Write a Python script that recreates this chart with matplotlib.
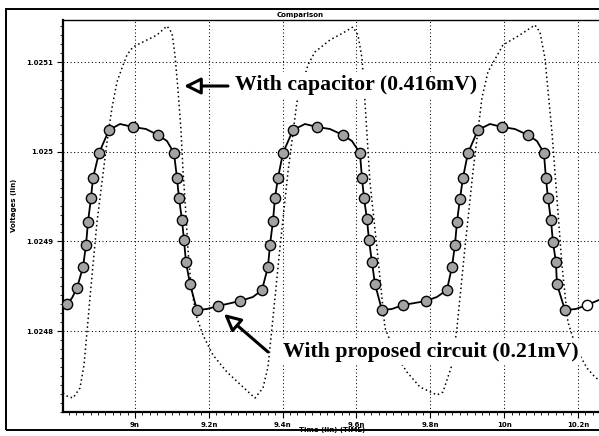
import numpy as np
import matplotlib
matplotlib.use("Agg")
import matplotlib.pyplot as plt
from matplotlib.ticker import AutoMinorLocator, FixedLocator, FixedFormatter
from matplotlib.patches import Rectangle

# ---------------- data ----------------
# "With capacitor" waveform (dotted)
cap_t = [8.8050, 8.8158, 8.8321, 8.8510, 8.8619, 8.8700, 8.8781, 8.8862, 8.8971, 8.9106,
         8.9242, 8.9377, 8.9512, 8.9648, 8.9783, 8.9946, 9.0217, 9.0596, 9.0867, 9.1002,
         9.1083, 9.1165, 9.1246, 9.1300, 9.1381, 9.1436, 9.1517, 9.1652, 9.1842, 9.2113,
         9.2492, 9.2925, 9.3250, 9.3467, 9.3602, 9.3711, 9.3927, 9.4144, 9.4388, 9.4686,
         9.4875, 9.5282, 9.5634, 9.5905, 9.6040, 9.6149, 9.6230, 9.6365, 9.6555, 9.6772,
         9.7069, 9.7367, 9.7720, 9.8180, 9.8343, 9.8586, 9.8722, 9.8938, 9.9155, 9.9399,
         9.9561, 9.9968, 10.0428, 10.0834, 10.0970, 10.1105, 10.1295, 10.1430, 10.1566, 10.1728,
         10.1972, 10.2243, 10.2460, 10.2568]
cap_v = [1.0247308, 1.0247274, 1.0247252, 1.0247364, 1.0247620, 1.0247989, 1.0248369, 1.0248737, 1.0249217, 1.0249664,
         1.0250110, 1.0250490, 1.0250780, 1.0250936, 1.0251082, 1.0251171, 1.0251227, 1.0251305, 1.0251405, 1.0251327,
         1.0251082, 1.0250691, 1.0250244, 1.0249798, 1.0249295, 1.0248904, 1.0248514, 1.0248179, 1.0247955, 1.0247732,
         1.0247542, 1.0247375, 1.0247252, 1.0247364, 1.0247598, 1.0248034, 1.0248927, 1.0249775, 1.0250557, 1.0250970,
         1.0251115, 1.0251249, 1.0251327, 1.0251394, 1.0251305, 1.0251048, 1.0250557, 1.0249664, 1.0248927, 1.0248034,
         1.0247732, 1.0247542, 1.0247375, 1.0247286, 1.0247319, 1.0247620, 1.0248034, 1.0248927, 1.0249775, 1.0250601,
         1.0250892, 1.0251193, 1.0251305, 1.0251416, 1.0251338, 1.0251048, 1.0250222, 1.0249485, 1.0248737, 1.0248101,
         1.0247788, 1.0247587, 1.0247486, 1.0247453]

# "With proposed circuit" waveform - marker samples
prop_mk_t = [8.8158, 8.8429, 8.8592, 8.8673, 8.8727, 8.8808, 8.8862, 8.9025, 8.9296, 8.9946,
             9.0623, 9.1056, 9.1138, 9.1192, 9.1273, 9.1327, 9.1381, 9.1490, 9.1679, 9.2248,
             9.2844, 9.3440, 9.3602, 9.3657, 9.3738, 9.3792, 9.3873, 9.4009, 9.4280, 9.4930,
             9.5634, 9.6094, 9.6149, 9.6203, 9.6284, 9.6338, 9.6419, 9.6501, 9.6690, 9.7259,
             9.7882, 9.8451, 9.8586, 9.8668, 9.8722, 9.8803, 9.8884, 9.9020, 9.9291, 9.9941,
             10.0645, 10.1078, 10.1132, 10.1187, 10.1268, 10.1322, 10.1403, 10.1430, 10.1647]
prop_mk_v = [1.0248301, 1.0248480, 1.0248715, 1.0248960, 1.0249217, 1.0249485, 1.0249708, 1.0249987, 1.0250244, 1.0250278,
             1.0250188, 1.0249987, 1.0249708, 1.0249485, 1.0249239, 1.0249016, 1.0248770, 1.0248525, 1.0248234, 1.0248279,
             1.0248335, 1.0248458, 1.0248715, 1.0248960, 1.0249228, 1.0249485, 1.0249708, 1.0249987, 1.0250244, 1.0250278,
             1.0250188, 1.0249987, 1.0249708, 1.0249485, 1.0249250, 1.0249016, 1.0248770, 1.0248525, 1.0248234, 1.0248290,
             1.0248335, 1.0248458, 1.0248715, 1.0248960, 1.0249217, 1.0249474, 1.0249708, 1.0249987, 1.0250244, 1.0250278,
             1.0250188, 1.0249987, 1.0249708, 1.0249485, 1.0249239, 1.0248994, 1.0248770, 1.0248525, 1.0248234]
# last (open) marker
prop_open_t = [10.2243]
prop_open_v = [1.0248290]

# additional waveform points between markers (no marker drawn)
prop_ex_t = [8.8050, 8.8294, 8.9594, 9.0298, 9.0867, 9.1950, 9.3196, 9.4605, 9.5282, 9.5878,
             9.6961, 9.8180, 9.9616, 10.0293, 10.0889, 10.1945, 10.2568]
prop_ex_v = [1.0248279, 1.0248369, 1.0250311, 1.0250255, 1.0250121, 1.0248246, 1.0248380, 1.0250311, 1.0250255, 1.0250121,
             1.0248246, 1.0248380, 1.0250311, 1.0250255, 1.0250121, 1.0248246, 1.0248346]

x_ticks = [9.0, 9.2, 9.4, 9.6, 9.8, 10.0, 10.2]
x_labels = ["9n", "9.2n", "9.4n", "9.6n", "9.8n", "10n", "10.2n"]
y_ticks = [1.0248, 1.0249, 1.0250, 1.0251]
y_labels = ["1.0248", "1.0249", "1.025", "1.0251"]

label_cap = "With capacitor (0.416mV)"
label_prop = "With proposed circuit (0.21mV)"

# ---------------- figure ----------------
W, H = 599, 436
fig = plt.figure(figsize=(W / 100, H / 100), dpi=100)
fig.patch.set_facecolor("white")

# outer frame
fig.patches.append(Rectangle((6 / W, 6 / H), 1 - 6 / W + 0.01, (430 - 9) / H,
                             transform=fig.transFigure, fill=False,
                             edgecolor="black", lw=1.4, zorder=0))

ax = fig.add_axes([63 / W, (H - 412) / H, (W - 63) / W, (412 - 20) / H])
ax.set_xlim(8.805, 10.257)
ax.set_ylim(1.0247096, 1.0251472)

ax.xaxis.set_major_locator(FixedLocator(x_ticks))
ax.xaxis.set_major_formatter(FixedFormatter(x_labels))
ax.yaxis.set_major_locator(FixedLocator(y_ticks))
ax.yaxis.set_major_formatter(FixedFormatter(y_labels))
ax.xaxis.set_minor_locator(AutoMinorLocator(10))
ax.yaxis.set_minor_locator(AutoMinorLocator(10))

ax.tick_params(which="major", direction="out", length=4, width=0.8, labelsize=5, pad=3)
ax.tick_params(which="minor", direction="out", length=2.2, width=0.6)
for lab in ax.get_xticklabels() + ax.get_yticklabels():
    lab.set_fontweight("bold")

ax.grid(which="major", color="black", linestyle=(0, (1, 2.4)), linewidth=0.75)
for s in ["left", "bottom"]:
    ax.spines[s].set_linewidth(1.6)
ax.spines["top"].set_linewidth(1.0)
ax.spines["right"].set_visible(False)

# capacitor waveform (dotted)
ax.plot(cap_t, cap_v, color="black", linestyle=(0, (1, 1.9)), linewidth=1.1, zorder=3)

# proposed-circuit waveform (solid with markers)
line_t = np.array(prop_mk_t + prop_open_t + prop_ex_t)
line_v = np.array(prop_mk_v + prop_open_v + prop_ex_v)
order = np.argsort(line_t)
ax.plot(line_t[order], line_v[order], color="black", linewidth=1.3, zorder=4)
ax.plot(prop_mk_t, prop_mk_v, linestyle="none", marker="o", markersize=7.4,
        markerfacecolor="#a3a3a3", markeredgecolor="black", markeredgewidth=1.0, zorder=5)
ax.plot(prop_open_t, prop_open_v, linestyle="none", marker="o", markersize=7.4,
        markerfacecolor="white", markeredgecolor="black", markeredgewidth=1.0, zorder=5)

# annotations
serif = ["Liberation Serif", "DejaVu Serif"]
ax.text(0.3209, 0.8214, label_cap, transform=ax.transAxes, fontsize=15.7,
        fontweight="bold", family=serif, ha="left", va="baseline", zorder=6,
        bbox=dict(boxstyle="square,pad=0.12", fc="white", ec="none"))
ax.text(0.4104, 0.1403, label_prop, transform=ax.transAxes, fontsize=15.7,
        fontweight="bold", family=serif, ha="left", va="baseline", zorder=6,
        bbox=dict(boxstyle="square,pad=0.12", fc="white", ec="none"))

ax.annotate("", xy=(0.2257, 0.8316), xytext=(0.3078, 0.8316),
            xycoords="axes fraction", textcoords="axes fraction",
            arrowprops=dict(arrowstyle="-|>,head_length=1.0,head_width=0.5",
                            lw=2.2, fc="white", ec="black", shrinkA=0, shrinkB=0),
            zorder=7)
ax.annotate("", xy=(0.3004, 0.2500), xytext=(0.3825, 0.1531),
            xycoords="axes fraction", textcoords="axes fraction",
            arrowprops=dict(arrowstyle="-|>,head_length=1.0,head_width=0.5",
                            lw=2.2, fc="white", ec="black", shrinkA=0, shrinkB=0),
            zorder=7)

# axis titles
fig.text(332 / W, 1 - 430 / H, "Time (lin) (TIME)", fontsize=5, fontweight="bold",
         ha="center", va="center")
fig.text(14 / W, 1 - 205 / H, "Voltages (lin)", fontsize=5, fontweight="bold",
         ha="center", va="center", rotation=90)
fig.text(300 / W, 1 - 14.5 / H, "Comparison", fontsize=5, fontweight="bold",
         ha="center", va="center")

fig.savefig("out.png", dpi=100)
